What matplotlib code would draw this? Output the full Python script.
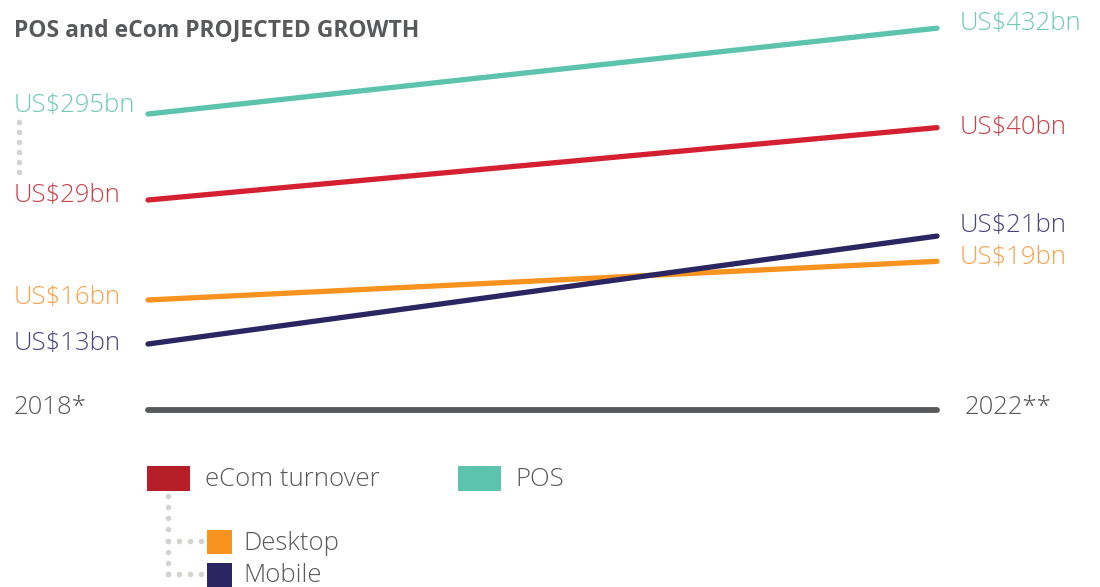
import numpy as np
import matplotlib
matplotlib.use("Agg")
import matplotlib.pyplot as plt
from matplotlib.patches import Rectangle

# data (US$ bn)
years = ["2018*", "2022**"]
series = ["POS", "eCom turnover", "Desktop", "Mobile"]
start_vals = [295, 29, 16, 13]
end_vals = [432, 40, 19, 21]

# styles / layout (pixel space of a 1100x587 canvas)
line_colors = ["#5cc3ad", "#d42030", "#f7931e", "#2b2662"]
label_colors = ["#6fcab5", "#c9424b", "#f7a24c", "#4a477c"]
start_y = [114, 200, 300, 344]     # where each series starts on the canvas
left_lab_y = [106, 196, 298, 344]
right_lab_y = [24, 128, 257, 226]
PX_PER_LOG = 225                   # vertical pixels per unit of ln(growth)
X0, X1 = 148, 937
BASE_Y = 410
GRAY = "#58595b"
DOT = "#d3d3cf"
FS = 18.5

plt.rcParams['font.family'] = ['Open Sans', 'DejaVu Sans']

fig = plt.figure(figsize=(11, 5.87), dpi=100)
ax = fig.add_axes([0, 0, 1, 1])
ax.set_xlim(0, 1100)
ax.set_ylim(587, 0)
ax.axis('off')

ax.text(14, 30, "POS and eCom PROJECTED GROWTH", fontsize=16.5, fontweight='bold',
        color=GRAY, ha='left', va='center')

def fmt(v):
    return f"US${v}bn"

for i in range(len(series)):
    y0 = start_y[i]
    y1 = y0 - PX_PER_LOG * np.log(end_vals[i] / start_vals[i])
    ax.plot([X0, X1], [y0, y1], color=line_colors[i], lw=3.8,
            solid_capstyle='round', zorder=3)
    ax.text(14, left_lab_y[i], fmt(start_vals[i]), fontsize=FS, fontweight='light',
            color=label_colors[i], ha='left', va='center')
    ax.text(960, right_lab_y[i], fmt(end_vals[i]), fontsize=FS, fontweight='light',
            color=label_colors[i], ha='left', va='center')

# baseline with years
ax.plot([X0, X1], [BASE_Y, BASE_Y], color=GRAY, lw=4.2, solid_capstyle='round')
ax.text(14, 408, years[0], fontsize=FS, fontweight='light', color=GRAY,
        ha='left', va='center')
ax.text(965, 407, years[1], fontsize=FS, fontweight='light', color=GRAY,
        ha='left', va='center')

# dotted connector between POS and eCom start labels
ax.plot(np.full(6, 19), np.linspace(122, 172, 6), ls='none', marker='o', ms=4,
        color=DOT, mec='none')

# legend
ax.add_patch(Rectangle((147, 466), 43, 25, color="#b71f28", lw=0))
ax.text(205, 480, "eCom turnover", fontsize=FS, fontweight='light', color=GRAY,
        ha='left', va='center')
ax.add_patch(Rectangle((458, 466), 43, 25, color="#5cc3ad", lw=0))
ax.text(515, 480, "POS", fontsize=FS, fontweight='light', color=GRAY,
        ha='left', va='center')
ax.add_patch(Rectangle((207, 530), 25, 24, color="#f7931e", lw=0))
ax.text(243, 543, "Desktop", fontsize=FS, fontweight='light', color=GRAY,
        ha='left', va='center')
ax.add_patch(Rectangle((207, 563), 25, 24, color="#2b2662", lw=0))
ax.text(243, 576, "Mobile", fontsize=FS, fontweight='light', color=GRAY,
        ha='left', va='center')

ax.plot(np.full(8, 168), np.linspace(496, 574, 8), ls='none', marker='o', ms=4,
        color=DOT, mec='none')
for yy in (541, 574):
    ax.plot(np.linspace(168, 201, 4), np.full(4, yy), ls='none', marker='o', ms=4,
            color=DOT, mec='none')

fig.savefig("out.png", dpi=100)
